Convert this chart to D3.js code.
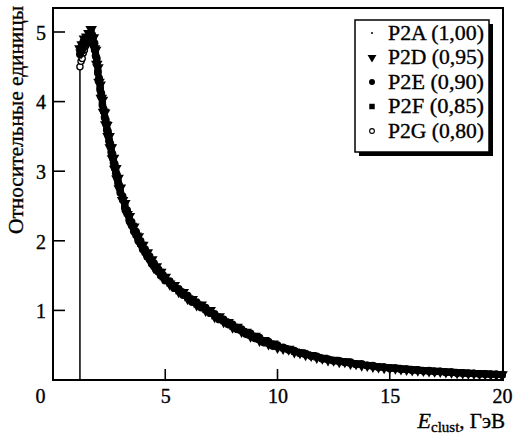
<!DOCTYPE html>
<html>
<head>
<meta charset="utf-8">
<script src="https://cdn.jsdelivr.net/npm/d3@7"></script>
<style>
  body { margin: 0; background: #fff; }
  text { font-family: "Liberation Serif", "Times New Roman", serif; fill: #000; stroke: #000; stroke-width: 0.35px; }
</style>
</head>
<body>
<div id="chart"></div>
<script>
// Energy grid (GeV), shared by all samples
const energy = [
  1.20, 1.25, 1.30, 1.35, 1.40, 1.45, 1.50, 1.55, 1.60, 1.65, 1.70, 1.75, 1.80, 1.85, 1.90, 1.95,
  2.00, 2.05, 2.10, 2.15, 2.20, 2.25, 2.30, 2.35, 2.40, 2.45, 2.50, 2.55, 2.60, 2.65, 2.70, 2.75,
  2.80, 2.85, 2.90, 2.95, 3.00,
  3.1, 3.2, 3.3, 3.4, 3.5, 3.6, 3.7, 3.8, 3.9, 4.0, 4.1, 4.2, 4.3, 4.4, 4.5, 4.6, 4.7, 4.8, 4.9, 5.0,
  5.2, 5.4, 5.6, 5.8, 6.0, 6.2, 6.4, 6.6, 6.8, 7.0, 7.2, 7.4, 7.6, 7.8, 8.0, 8.2, 8.4, 8.6, 8.8,
  9.0, 9.2, 9.4, 9.6, 9.8, 10.0,
  10.25, 10.5, 10.75, 11.0, 11.25, 11.5, 11.75, 12.0, 12.25, 12.5, 12.75, 13.0, 13.25, 13.5,
  13.75, 14.0, 14.25, 14.5, 14.75, 15.0, 15.25, 15.5, 15.75, 16.0, 16.25, 16.5, 16.75, 17.0,
  17.25, 17.5, 17.75, 18.0, 18.25, 18.5, 18.75, 19.0, 19.25, 19.5, 19.75, 20.0
];

// Relative units per sample
const p2a = [
  4.72, 4.76, 4.75, 4.84, 4.83, 4.90, 4.86, 4.93, 4.90, 5.00, 4.96, 4.97, 4.86, 4.83, 4.68, 4.60,
  4.43, 4.35, 4.18, 4.11, 3.96, 3.91, 3.78, 3.73, 3.60, 3.56, 3.44, 3.40, 3.28, 3.24, 3.13, 3.09,
  2.98, 2.95, 2.84, 2.81, 2.70,
  2.63, 2.48, 2.43, 2.30, 2.26, 2.15, 2.12, 2.01, 1.99, 1.89, 1.87, 1.78, 1.77, 1.68, 1.67, 1.59, 1.58, 1.51, 1.50, 1.44,
  1.41, 1.33, 1.30, 1.23, 1.20, 1.13, 1.11, 1.05, 1.03, 0.97, 0.94, 0.88, 0.86, 0.81, 0.79, 0.74, 0.72, 0.67, 0.66,
  0.61, 0.60, 0.55, 0.54, 0.50, 0.49,
  0.465, 0.435, 0.415, 0.385, 0.375, 0.345, 0.335, 0.305, 0.30, 0.275, 0.275, 0.255, 0.25, 0.225,
  0.225, 0.205, 0.20, 0.185, 0.18, 0.17, 0.165, 0.155, 0.15, 0.14, 0.14, 0.13, 0.13, 0.12,
  0.12, 0.11, 0.11, 0.10, 0.10, 0.095, 0.095, 0.088, 0.087, 0.081, 0.081, 0.075
];
const p2d = [
  4.76, 4.70, 4.82, 4.79, 4.90, 4.82, 4.93, 4.87, 4.98, 4.92, 5.04, 4.90, 4.92, 4.76, 4.74, 4.54,
  4.49, 4.28, 4.24, 4.05, 4.02, 3.85, 3.84, 3.67, 3.66, 3.50, 3.50, 3.34, 3.34, 3.18, 3.19, 3.03,
  3.04, 2.89, 2.90, 2.75, 2.76,
  2.58, 2.54, 2.38, 2.35, 2.21, 2.20, 2.07, 2.06, 1.94, 1.94, 1.82, 1.83, 1.72, 1.73, 1.62, 1.63, 1.55, 1.55, 1.47, 1.48,
  1.38, 1.36, 1.27, 1.26, 1.17, 1.16, 1.08, 1.08, 1.00, 1.00, 0.91, 0.91, 0.84, 0.83, 0.76, 0.76, 0.70, 0.69, 0.63,
  0.63, 0.57, 0.57, 0.52, 0.52, 0.47,
  0.455, 0.445, 0.405, 0.395, 0.365, 0.355, 0.325, 0.315, 0.29, 0.285, 0.265, 0.265, 0.24, 0.235,
  0.215, 0.21, 0.195, 0.19, 0.178, 0.175, 0.17, 0.162, 0.155, 0.148, 0.142, 0.138, 0.133, 0.128,
  0.123, 0.118, 0.113, 0.108, 0.103, 0.099, 0.095, 0.091, 0.088, 0.085, 0.079, 0.078
];
const p2e = [
  4.68, 4.78, 4.76, 4.86, 4.88, 4.84, 4.90, 4.88, 4.95, 4.94, 4.97, 4.96, 4.84, 4.84, 4.66, 4.62,
  4.41, 4.34, 4.17, 4.12, 3.95, 3.90, 3.77, 3.74, 3.59, 3.57, 3.43, 3.40, 3.27, 3.25, 3.12, 3.10,
  2.97, 2.95, 2.83, 2.80, 2.69,
  2.64, 2.47, 2.44, 2.29, 2.27, 2.14, 2.13, 2.00, 2.00, 1.88, 1.88, 1.77, 1.78, 1.67, 1.68, 1.58, 1.59, 1.50, 1.51, 1.43,
  1.42, 1.32, 1.31, 1.22, 1.21, 1.12, 1.12, 1.04, 1.04, 0.96, 0.95, 0.87, 0.87, 0.80, 0.80, 0.73, 0.73, 0.66, 0.67,
  0.60, 0.61, 0.54, 0.55, 0.49, 0.50,
  0.47, 0.435, 0.42, 0.385, 0.38, 0.345, 0.34, 0.305, 0.30, 0.275, 0.275, 0.255, 0.255, 0.228,
  0.232, 0.208, 0.205, 0.188, 0.186, 0.17, 0.17, 0.156, 0.154, 0.142, 0.144, 0.132, 0.134, 0.122,
  0.124, 0.112, 0.113, 0.101, 0.101, 0.095, 0.096, 0.088, 0.087, 0.082, 0.081, 0.076
];
const p2f = [
  4.74, 4.73, 4.80, 4.81, 4.86, 4.87, 4.86, 4.92, 4.92, 4.95, 5.00, 4.91, 4.90, 4.78, 4.72, 4.56,
  4.47, 4.30, 4.22, 4.07, 4.00, 3.87, 3.82, 3.69, 3.64, 3.52, 3.48, 3.36, 3.32, 3.20, 3.17, 3.05,
  3.02, 2.91, 2.88, 2.77, 2.74,
  2.60, 2.52, 2.40, 2.33, 2.23, 2.18, 2.09, 2.04, 1.96, 1.92, 1.84, 1.81, 1.74, 1.71, 1.64, 1.62, 1.56, 1.54, 1.48, 1.47,
  1.39, 1.35, 1.28, 1.25, 1.18, 1.15, 1.09, 1.07, 1.01, 0.99, 0.92, 0.90, 0.85, 0.82, 0.77, 0.75, 0.71, 0.68, 0.64,
  0.62, 0.58, 0.56, 0.53, 0.51, 0.48,
  0.46, 0.44, 0.41, 0.39, 0.37, 0.35, 0.33, 0.31, 0.295, 0.28, 0.27, 0.26, 0.245, 0.23,
  0.22, 0.21, 0.20, 0.19, 0.182, 0.175, 0.168, 0.16, 0.152, 0.145, 0.14, 0.135, 0.13, 0.125,
  0.12, 0.115, 0.11, 0.105, 0.10, 0.097, 0.093, 0.09, 0.086, 0.083, 0.08, 0.077
];
const p2g = [
  4.50, 4.58, 4.62, 4.70, 4.74, 4.80, 4.84, 4.86, 4.88, 4.90, 4.92, 4.86, 4.82, 4.74, 4.66, 4.56,
  4.44, 4.32, 4.21, 4.10, 3.99, 3.88, 3.79, 3.70, 3.61, 3.53, 3.45, 3.37, 3.29, 3.21, 3.14, 3.06,
  2.99, 2.92, 2.85, 2.78, 2.71,
  2.62, 2.51, 2.42, 2.31, 2.25, 2.16, 2.11, 2.02, 1.98, 1.90, 1.86, 1.79, 1.76, 1.69, 1.66, 1.60, 1.57, 1.52, 1.49, 1.45,
  1.40, 1.34, 1.29, 1.24, 1.19, 1.14, 1.10, 1.06, 1.02, 0.98, 0.93, 0.89, 0.85, 0.82, 0.78, 0.75, 0.71, 0.68, 0.65,
  0.62, 0.59, 0.56, 0.53, 0.51, 0.49,
  0.462, 0.438, 0.412, 0.388, 0.372, 0.348, 0.332, 0.308, 0.296, 0.278, 0.272, 0.258, 0.247, 0.228,
  0.222, 0.208, 0.202, 0.188, 0.183, 0.173, 0.169, 0.158, 0.153, 0.143, 0.141, 0.133, 0.131, 0.123,
  0.121, 0.113, 0.111, 0.103, 0.101, 0.096, 0.094, 0.089, 0.087, 0.082, 0.081, 0.076
];

const seriesNames = ["P2A (1,00)", "P2D (0,95)", "P2E (0,90)", "P2F (0,85)", "P2G (0,80)"];
const xTicks = [0, 5, 10, 15, 20];
const yTicks = [1, 2, 3, 4, 5];
const cutEnergy = 1.2;       // threshold edge (vertical line)
const cutHeight = 4.48;

const width = 517, height = 438;
const plotLeft = 53, plotRight = 503, plotTop = 8, plotBottom = 380;

const svg = d3.select("#chart")
  .append("svg")
  .attr("width", width)
  .attr("height", height);

const x = d3.scaleLinear().domain([0, 20]).range([plotLeft, 502]);
const y = d3.scaleLinear().domain([0, 5]).range([plotBottom, 32]);

// Marker styles per sample
const styles = [
  { type: d3.symbolCircle, size: 2, fill: "#000", stroke: "none", rot: 0, legendSize: 3 },
  { type: d3.symbolTriangle, size: 58, fill: "#000", stroke: "none", rot: 180, legendSize: 34 },
  { type: d3.symbolCircle, size: 48, fill: "#000", stroke: "none", rot: 0, legendSize: 28 },
  { type: d3.symbolSquare, size: 46, fill: "#000", stroke: "none", rot: 0, legendSize: 30 },
  { type: d3.symbolCircle, size: 30, fill: "#fff", stroke: "#000", rot: 0, legendSize: 18 }
];
const seriesValues = [p2a, p2d, p2e, p2f, p2g];
const drawOrder = [4, 0, 1, 2, 3];   // open circles underneath

// threshold line
svg.append("line")
  .attr("x1", x(cutEnergy)).attr("x2", x(cutEnergy))
  .attr("y1", y(0)).attr("y2", y(cutHeight))
  .attr("stroke", "#000").attr("stroke-width", 1.5);

// Data points
drawOrder.forEach(i => {
  const st = styles[i];
  const sym = d3.symbol().type(st.type).size(st.size);
  svg.append("g")
    .selectAll("path")
    .data(seriesValues[i].map((v, j) => [energy[j], v]))
    .enter()
    .append("path")
    .attr("d", sym)
    .attr("transform", d => `translate(${x(d[0])},${y(d[1])}) rotate(${st.rot})`)
    .attr("fill", st.fill)
    .attr("stroke", st.stroke)
    .attr("stroke-width", 1.3);
});

// Frame
svg.append("rect")
  .attr("x", plotLeft).attr("y", plotTop)
  .attr("width", plotRight - plotLeft).attr("height", plotBottom - plotTop)
  .attr("fill", "none").attr("stroke", "#000").attr("stroke-width", 2);

// X axis (ticks inside)
const xAxis = d3.axisBottom(x).tickValues(xTicks).tickSize(0).tickPadding(0).tickFormat(d3.format("d"));
const gx = svg.append("g").attr("transform", `translate(0,${plotBottom})`).call(xAxis);
gx.select(".domain").remove();
gx.selectAll("text")
  .attr("y", 23)
  .attr("dy", 0)
  .attr("dx", d => d === 0 ? -13 : 0)
  .style("font-size", "20px")
  .style("font-family", "Liberation Serif, serif");
svg.append("g").selectAll("line")
  .data(xTicks.filter(d => d > 0 && d < 20))
  .enter().append("line")
  .attr("x1", d => x(d)).attr("x2", d => x(d))
  .attr("y1", plotBottom).attr("y2", plotBottom - 11)
  .attr("stroke", "#000").attr("stroke-width", 1.6);

// Y axis (ticks inside)
const yAxis = d3.axisLeft(y).tickValues(yTicks).tickSize(0).tickPadding(7).tickFormat(d3.format("d"));
const gy = svg.append("g").attr("transform", `translate(${plotLeft},0)`).call(yAxis);
gy.select(".domain").remove();
gy.selectAll("text")
  .attr("dy", "0.36em")
  .style("font-size", "20px")
  .style("font-family", "Liberation Serif, serif");
svg.append("g").selectAll("line")
  .data(yTicks)
  .enter().append("line")
  .attr("x1", plotLeft).attr("x2", plotLeft + 12)
  .attr("y1", d => y(d)).attr("y2", d => y(d))
  .attr("stroke", "#000").attr("stroke-width", 1.6);

// Axis titles
svg.append("text")
  .attr("transform", "translate(23,120) rotate(-90)")
  .attr("text-anchor", "middle")
  .attr("textLength", 228)
  .attr("lengthAdjust", "spacingAndGlyphs")
  .style("font-size", "21px")
  .text("Относительные единицы");

const xt = svg.append("text")
  .attr("x", 505).attr("y", 428)
  .attr("text-anchor", "end")
  .style("font-size", "21px");
xt.append("tspan").style("font-style", "italic").style("font-size", "22px").text("E");
xt.append("tspan").attr("dy", 4).style("font-size", "15px").text("clust");
xt.append("tspan").attr("dy", -4).text(", ГэВ");

// Legend box with shadow
const lg = svg.append("g").attr("transform", "translate(355,20)");
lg.append("rect").attr("x", 4).attr("y", 4).attr("width", 134).attr("height", 132).attr("fill", "#000");
lg.append("rect").attr("x", 0).attr("y", 0).attr("width", 134).attr("height", 132)
  .attr("fill", "#fff").attr("stroke", "#000").attr("stroke-width", 1.5);

seriesNames.forEach((name, i) => {
  const st = styles[i];
  const cy = 13 + i * 24.5;
  lg.append("path")
    .attr("d", d3.symbol().type(st.type).size(st.legendSize)())
    .attr("transform", `translate(17,${cy}) rotate(${st.rot})`)
    .attr("fill", st.fill).attr("stroke", st.stroke).attr("stroke-width", 1.1);
  lg.append("text")
    .attr("x", 33).attr("y", cy + 6.5)
    .attr("textLength", 96)
    .attr("lengthAdjust", "spacingAndGlyphs")
    .style("font-size", "21px")
    .text(name);
});
</script>
</body>
</html>
